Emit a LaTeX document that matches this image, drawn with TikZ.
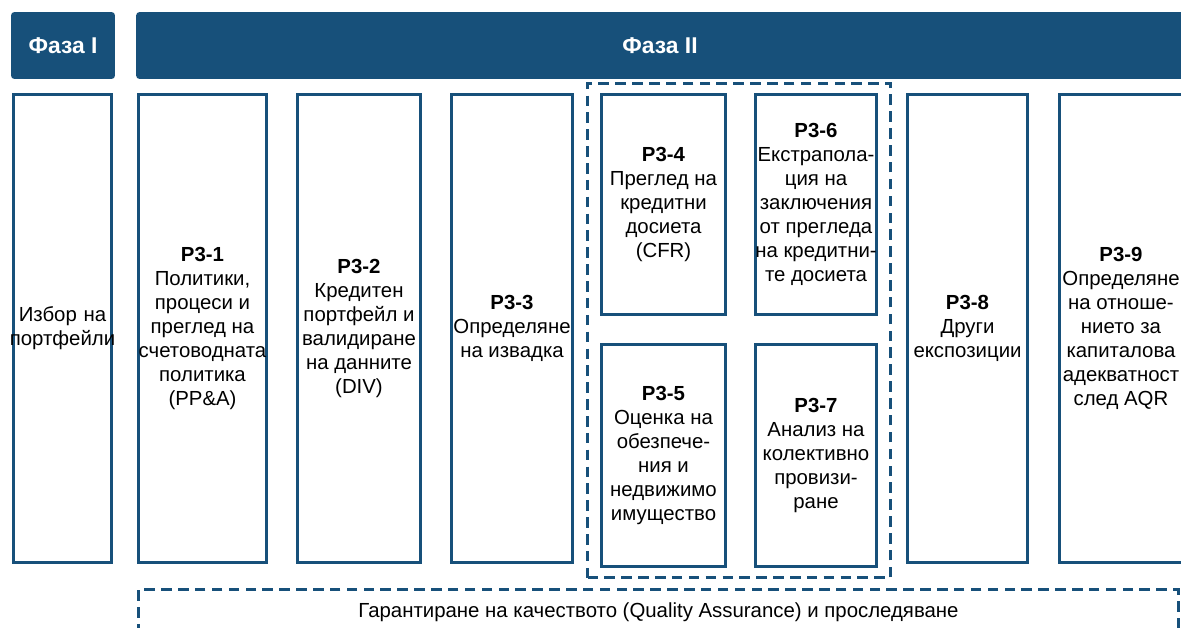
\documentclass[tikz,border=0pt]{standalone}
\usepackage{fontspec}
\setmainfont{Liberation Sans}
\usetikzlibrary{fit}

\definecolor{aqrblue}{HTML}{17507A}

\tikzset{
    phase/.style={fill=aqrblue, text=white, rounded corners=2pt, inner sep=0pt,
        font=\fontsize{13}{15}\selectfont\bfseries},
    stepbox/.style={draw=aqrblue, line width=1.6pt, fill=white, align=center,
        inner sep=0pt, font=\fontsize{11.6}{13.6}\selectfont},
    groupbox/.style={draw=aqrblue, line width=1.6pt, dash pattern=on 6pt off 3.6pt},
}

\begin{document}
\begin{tikzpicture}[x=0.02cm, y=-0.02cm]
    \useasboundingbox (0,0) rectangle (1181,628);
    \clip (0,0) rectangle (1181,628);

    % Фази
    \node[phase, minimum width=2.08cm, minimum height=1.34cm] (faza1) at (63,45.5) {Фаза I};
    \node[phase, minimum width=20.96cm, minimum height=1.34cm] (faza2) at (660,45.5) {Фаза II};

    % Колони
    \node[stepbox, text width=1.96cm, minimum height=9.36cm] (izbor) at (62.5,328.5)
        {Избор на\\\makebox[\linewidth]{портфейли}};
    \node[stepbox, minimum width=2.56cm, minimum height=9.36cm] (p1) at (202.5,328.5)
        {\textbf{P3-1}\\Политики,\\процеси и\\преглед на\\счетоводната\\политика\\(PP\&A)};
    \node[stepbox, minimum width=2.46cm, minimum height=9.36cm] (p2) at (359,328.5)
        {\textbf{P3-2}\\Кредитен\\портфейл и\\валидиране\\на данните\\(DIV)};
    \node[stepbox, minimum width=2.42cm, minimum height=9.36cm] (p3) at (512,328.5)
        {\textbf{P3-3}\\Определяне\\на извадка};

    % Кредитни досиета
    \node[stepbox, minimum width=2.48cm, minimum height=4.4cm] (p4) at (663.5,204.5)
        {\textbf{P3-4}\\Преглед на\\кредитни\\досиета\\(CFR)};
    \node[stepbox, minimum width=2.48cm, minimum height=4.44cm] (p5) at (663.5,455.5)
        {\textbf{P3-5}\\Оценка на\\обезпече-\\ния и\\недвижимо\\имущество};
    \node[stepbox, minimum width=2.42cm, minimum height=4.4cm] (p6) at (816,204.5)
        {\textbf{P3-6}\\Екстрапола-\\ция на\\заключения\\от прегледа\\на кредитни-\\те досиета};
    \node[stepbox, minimum width=2.42cm, minimum height=4.44cm] (p7) at (816,455.5)
        {\textbf{P3-7}\\Анализ на\\колективно\\провизи-\\ране};
    \node[groupbox, fit=(p4)(p5)(p6)(p7), inner xsep=0.25cm, inner ysep=0.2cm] (grupa) {};

    \node[stepbox, minimum width=2.4cm, minimum height=9.36cm] (p8) at (967.5,328.5)
        {\textbf{P3-8}\\Други\\експозиции};
    \node[stepbox, minimum width=2.46cm, minimum height=9.36cm] (p9) at (1121,328.5)
        {\textbf{P3-9}\\Определяне\\на отноше-\\нието за\\капиталова\\адекватност\\след AQR};

    % Качество
    \node[stepbox, groupbox, minimum width=20.8cm, minimum height=0.9cm] (qa) at (658.5,612)
        {Гарантиране на качеството (Quality Assurance) и проследяване};
\end{tikzpicture}
\end{document}
